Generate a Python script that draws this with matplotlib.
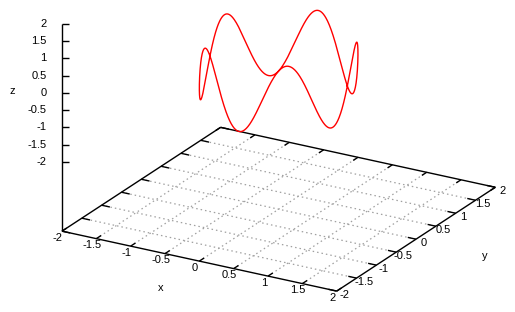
import numpy as np
import matplotlib
matplotlib.use("Agg")
import matplotlib.pyplot as plt
from matplotlib.transforms import offset_copy
from mpl_toolkits.mplot3d import proj3d

plt.rcParams['font.family'] = ['Liberation Sans', 'DejaVu Sans']

# ---- data ----
x_ticks = [-2, -1.5, -1, -0.5, 0, 0.5, 1, 1.5, 2]
y_ticks = [-2, -1.5, -1, -0.5, 0, 0.5, 1, 1.5, 2]
z_ticks = [-2, -1.5, -1, -0.5, 0, 0.5, 1, 1.5, 2]
x_tick_labels = ['-2', '-1.5', '-1', '-0.5', '0', '0.5', '1', '1.5', '2']
y_tick_labels = ['-2', '-1.5', '-1', '-0.5', '0', '0.5', '1', '1.5', '2']
z_tick_labels = ['-2', '-1.5', '-1', '-0.5', '0', '0.5', '1', '1.5', '2']

# parametric curve: unit circle in xy, z with 5 waves of amplitude 1
curve_radius = 1.0
curve_z_amplitude = 1.0
curve_z_waves = 5
t = np.linspace(0, 2 * np.pi, 1500)
cx = curve_radius * np.cos(t)
cy = curve_radius * np.sin(t)
cz = curve_z_amplitude * np.sin(curve_z_waves * t)

# ---- figure ----
W, H = 515, 312
fig = plt.figure(figsize=(W / 100, H / 100), dpi=100)
ax = fig.add_axes([0, 0, 1, 1], projection='3d')
ax.set_proj_type('ortho')
ELEV, AZIM = 22.2, -60
ax.view_init(elev=ELEV, azim=AZIM)

xmin, xmax = x_ticks[0], x_ticks[-1]
ymin, ymax = y_ticks[0], y_ticks[-1]
zmin, zmax = z_ticks[0], z_ticks[-1]
ticslevel = 0.5
zb = zmin - ticslevel * (zmax - zmin)

ax.set_xlim(xmin, xmax)
ax.set_ylim(ymin, ymax)
ax.set_zlim(zb, zmax)
ax.set_box_aspect((1, 1, 0.706))
ax.set_axis_off()
ax.patch.set_alpha(0)
ax.computed_zorder = False

lk = dict(color='black', lw=1.0, clip_on=False, solid_capstyle='butt')
gk = dict(color='#a0a0a0', lw=0.9, linestyle=(0, (1.2, 2.4)), clip_on=False)

# grid on base
for xv in x_ticks[1:-1]:
    ax.plot([xv, xv], [ymin, ymax], [zb, zb], zorder=1, **gk)
for yv in y_ticks[1:-1]:
    ax.plot([xmin, xmax], [yv, yv], [zb, zb], zorder=1, **gk)

# base border
ax.plot([xmin, xmax], [ymin, ymin], [zb, zb], zorder=2, **lk)
ax.plot([xmax, xmax], [ymin, ymax], [zb, zb], zorder=2, **lk)
ax.plot([xmax, xmin], [ymax, ymax], [zb, zb], zorder=2, **lk)
ax.plot([xmin, xmin], [ymax, ymin], [zb, zb], zorder=2, **lk)
# vertical z axis
ax.plot([xmin, xmin], [ymin, ymin], [zb, zmax], zorder=2, **lk)

# ticks
tl = 0.12
for xv in x_ticks:
    ax.plot([xv, xv], [ymin, ymin + tl], [zb, zb], zorder=2, **lk)
    ax.plot([xv, xv], [ymax, ymax - tl], [zb, zb], zorder=2, **lk)
for yv in y_ticks:
    ax.plot([xmax, xmax - tl], [yv, yv], [zb, zb], zorder=2, **lk)
    ax.plot([xmin, xmin + tl], [yv, yv], [zb, zb], zorder=2, **lk)
ztl = 0.088
zdx = -np.sin(np.radians(AZIM)) * ztl
zdy = np.cos(np.radians(AZIM)) * ztl
for zv in z_ticks:
    ax.plot([xmin, xmin + zdx], [ymin, ymin + zdy], [zv, zv], zorder=2, **lk)

# curve
ax.plot(cx, cy, cz, color='#ff0000', lw=1.0, zorder=3, clip_on=False)

# ---- place the 3D box so that the frame lands where the reference has it ----
fig.canvas.draw()
M = ax.get_proj()
anchors = [((xmin, ymin, zb), (62, H - 231)),
           ((xmax, ymin, zb), (336, H - 291)),
           ((xmax, ymax, zb), (496, H - 187)),
           ((xmin, ymin, zmax), (62, H - 24.3))]
rows, rhs = [], []
for (px, py, pz), (tx, ty) in anchors:
    xs, ys, _ = proj3d.proj_transform(px, py, pz, M)
    disp = ax.transData.transform((xs, ys))
    fx, fy = ax.transAxes.inverted().transform(disp)
    rows.append([1, 0, fx]); rhs.append(tx)
    rows.append([0, 1, fy]); rhs.append(ty)
sol, *_ = np.linalg.lstsq(np.array(rows, float), np.array(rhs, float), rcond=None)
left, bottom, L = sol
ax.set_position([left / W, bottom / H, L / W, L / H])


# ---- labels: 2D texts anchored at the projected 3D positions ----
def proj2d(x, y, z):
    xs, ys, _ = proj3d.proj_transform(x, y, z, M)
    return float(xs), float(ys)


def label(x, y, z, s, dx, dy, **kw):
    px, py = proj2d(x, y, z)
    ax.text2D(px, py, s, fontsize=8, clip_on=False,
              transform=offset_copy(ax.transData, fig=fig, x=dx, y=dy, units='dots'),
              **kw)


for xv, s in zip(x_ticks, x_tick_labels):
    label(xv, ymin, zb, s, -4.3, -6.8, ha='center', va='center')
for yv, s in zip(y_ticks, y_tick_labels):
    label(xmax, yv, zb, s, 7.3, -4.2, ha='center', va='center')
for zv, s in zip(z_ticks, z_tick_labels):
    label(xmin, ymin, zv, s, -15.5, 0, ha='right', va='center')
label(xmin, ymin, 0, 'z', -49.3, 1.6, ha='center', va='center')
label(0, ymin, zb, 'x', -39, -27.1, ha='center', va='center')
label(xmax, 0, zb, 'y', 68.3, -16.7, ha='center', va='center')

fig.savefig('out.png', dpi=100)
